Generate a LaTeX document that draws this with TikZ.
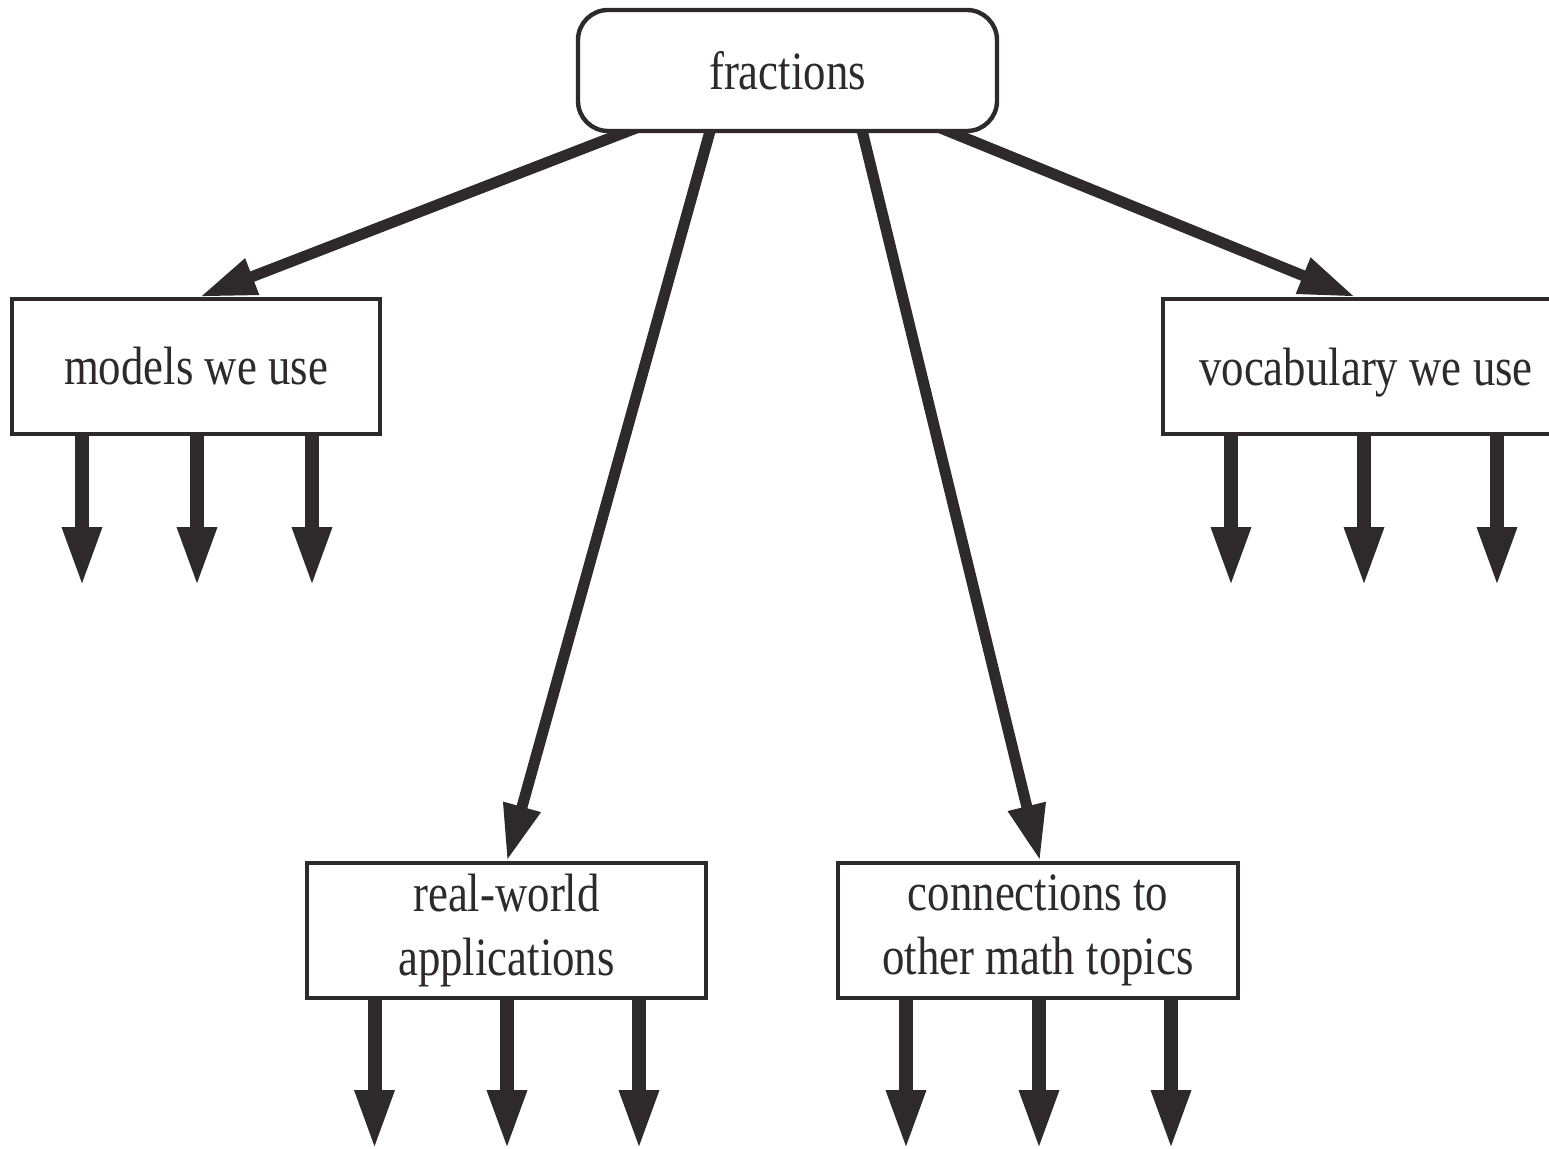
\documentclass[tikz,border=0pt]{standalone}
\usepackage{fontspec}
\setmainfont{Liberation Serif}[FakeStretch=0.83]
\usetikzlibrary{arrows.meta,backgrounds}
\definecolor{ink}{RGB}{46,41,42}
\begin{document}
\begin{tikzpicture}[x=0.5pt,y=-0.5pt,
  box/.style={draw=ink, line width=2.2pt, fill=white, text=ink, align=center,
    inner sep=0pt, minimum height=67.5pt, font=\fontsize{27}{32}\selectfont},
  bigarrow/.style={draw=ink, line width=5.5pt, -{Triangle[length=28pt,width=18pt]}},
  smallarrow/.style={draw=ink, line width=7pt, -{Triangle[length=30pt,width=18pt]}}]
\clip (0,0) rectangle (1549,1149);
\node[box, rounded corners=15pt, minimum width=209.5pt, minimum height=60.5pt] (frac) at (787.5,70.5) {fractions};
\node[box, minimum width=184pt] (models) at (196,366.5) {models we use};
\node[box, minimum width=203pt, text depth=0pt] (vocab) at (1366,366.5) {vocabulary we use};
\node[box, minimum width=199.5pt] (real) at (506.5,930.5) {real-world\\applications};
\node[box, minimum width=200pt] (conn) at (1038,930.5) {connections to\\other math topics};
\begin{scope}[on background layer]
\draw[bigarrow] ([xshift=39pt,yshift=6pt]frac.south west) -- ([xshift=2pt]models.north);
\draw[bigarrow] ([xshift=68.5pt,yshift=6pt]frac.south west) -- ([xshift=0.25pt]real.north);
\draw[bigarrow] ([xshift=142pt,yshift=6pt]frac.south west) -- ([xshift=1pt]conn.north);
\draw[bigarrow] ([xshift=174pt,yshift=6pt]frac.south west) -- ([xshift=-5.5pt]vocab.north);
\foreach \dx in {-57,0.5,58}
  \draw[smallarrow] ([xshift=\dx pt,yshift=4pt]models.south) -- ++(0,159);
\foreach \dx in {-67.5,-1,65.5}
  \draw[smallarrow] ([xshift=\dx pt,yshift=4pt]vocab.south) -- ++(0,159);
\foreach \dx in {-66,0.25,66.25}
  \draw[smallarrow] ([xshift=\dx pt,yshift=4pt]real.south) -- ++(0,158);
\foreach \dx in {-66,0.5,66.5}
  \draw[smallarrow] ([xshift=\dx pt,yshift=4pt]conn.south) -- ++(0,158);
\end{scope}
\end{tikzpicture}
\end{document}
